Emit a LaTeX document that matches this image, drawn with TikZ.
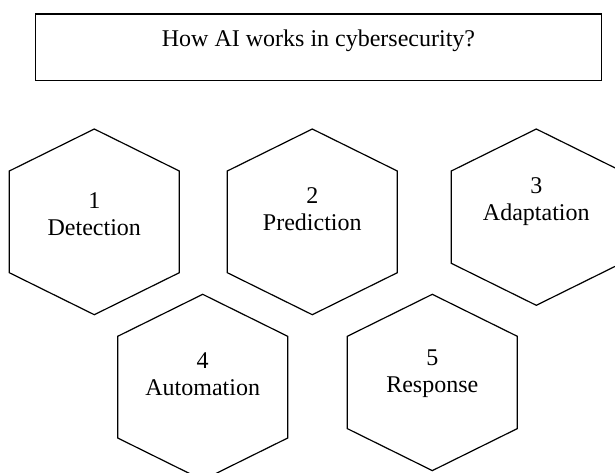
\documentclass[tikz,border=0pt]{standalone}
\usepackage{fontspec}
\setmainfont{Liberation Serif}
\begin{document}
\begin{tikzpicture}
    [   x = 0.5pt
    ,   y = -0.5pt
    ,   line width = 0.6pt
    ,   titlebox/.style =
        {   draw
        ,   rectangle
        ,   minimum width = 283.2pt
        ,   inner ysep = 8.35pt
        ,   text height = 7.9pt
        ,   text depth = 8.55pt
        ,   font = \fontsize{12}{13.5}\selectfont
        }
    ,   hexlabel/.style =
        {   align = center
        ,   inner sep = 0mm
        ,   text depth = 3pt
        ,   font = \fontsize{12}{13.5}\selectfont
        }
    ]
    \clip (0,0) rectangle (615,472);
    \node[titlebox] (title) at (318.5,47.15) {How AI works in cybersecurity?};
    % centre x / top corner y / side length / label y / name / number / word
    \foreach \cx/\ty/\sd/\ly/\nm/\num/\word in
    {   94.3/129/101.7/216.6/det/1/Detection,
        312.3/129/101.7/211.6/pre/2/Prediction,
        536.3/129/92.3/201.6/ada/3/Adaptation,
        202.7/294.3/101.7/376.6/aut/4/Automation,
        432.3/294.3/92.3/374.6/res/5/Response}
    {   \draw (\cx,\ty) -- ++(85,42) -- ++(0,\sd) -- ++(-85,42)
              -- ++(-85,-42) -- ++(0,-\sd) -- cycle;
        \node[hexlabel] (\nm) at (\cx,\ly) {\num\\\word};
    }

\end{tikzpicture}
\end{document}
